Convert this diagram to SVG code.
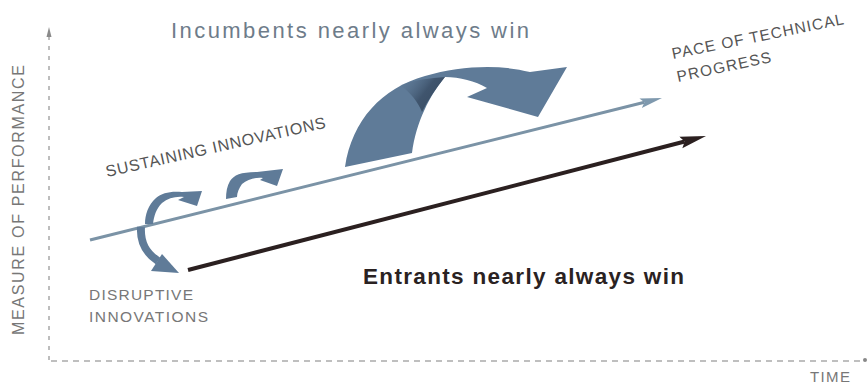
<svg xmlns="http://www.w3.org/2000/svg" width="868" height="384" viewBox="0 0 868 384">
<style>
.t{font-family:"Liberation Sans",Arial,sans-serif}
.axis{fill:#777;font-size:15px}
.lbl{fill:#555;font-size:15.5px}
.blue{fill:#5f7b98}
</style>
<defs>
<marker id="hLight" markerUnits="userSpaceOnUse" markerWidth="24" markerHeight="12" viewBox="0 -6 24 12" refX="4" refY="0" orient="auto">
<path d="M0,-5 L22,0 L0,5 L4,0 Z" fill="#7f99ae"/>
</marker>
<marker id="hDark" markerUnits="userSpaceOnUse" markerWidth="28" markerHeight="14" viewBox="0 -7 28 14" refX="4" refY="0" orient="auto">
<path d="M0,-6 L26,0 L0,6 L4,0 Z" fill="#2b2020"/>
</marker>
<linearGradient id="shadeG" x1="0" y1="0" x2="1" y2="0.6">
<stop offset="0" stop-color="#5f7b98" stop-opacity="0"/>
<stop offset="0.6" stop-color="#3a4e66" stop-opacity="0.85"/>
<stop offset="1" stop-color="#34475d" stop-opacity="0.9"/>
</linearGradient>
</defs>
<rect width="868" height="384" fill="#fff"/>

<g id="axes">
<line x1="49" y1="36" x2="49" y2="360" stroke="#9a9a9a" stroke-width="1.3" stroke-dasharray="4,6"/>
<path d="M49,27 L51.5,37 L46.5,37 Z" fill="#8a8a8a"/>
<line x1="51" y1="361" x2="864" y2="361" stroke="#aaa" stroke-width="1.3" stroke-dasharray="6,5"/>
<circle cx="865" cy="360" r="2" fill="#888"/>
<text class="t axis" x="24" y="200" transform="rotate(-90 24 200)" text-anchor="middle" textLength="270" lengthAdjust="spacing" style="font-size:16px">MEASURE OF PERFORMANCE</text>
<text class="t axis" x="810" y="382" textLength="40" lengthAdjust="spacing">TIME</text>
</g>

<g id="connectors">
<line id="pace-line" x1="90" y1="240" x2="644.5" y2="102.3" stroke="#7b93a6" stroke-width="3" marker-end="url(#hLight)"/>
<line id="entrant-line" x1="188" y1="270" x2="684.7" y2="141.5" stroke="#2b2020" stroke-width="4" marker-end="url(#hDark)"/>
</g>

<g id="big-arrow">
<path class="blue" d="M345,167 C352,120 382,88 425,76 C460,66 498,64 530,72 L567,67 L538,117 L467,97 L487,88 C475,81 460,77 445,77 C430,95 416,122 412,153 Z"/>
<path fill="url(#shadeG)" d="M400,85 C415,80 430,78 445,77 C436,88 428,100 422,112 C418,102 411,93 400,85 Z"/>
</g>

<g id="small-arrow-2">
<path class="blue" d="M226,199 C226,192 227,186 230,181 C234,175 241,172 257,172 L283,169 L277,186 L260,180 L263,178 C256,177 248,179 242,184 C239,188 237,193 237,197 Z"/>
</g>

<g id="small-arrow-1">
<path class="blue" d="M145,224 C145,215 148,205 156,198 C162,193 170,191 182,192 L202,191 L197,206 L178,200 L184,197 C176,196 168,198 162,203 C156,209 154,216 153,224 Z"/>
</g>

<g id="disruptive-arrow">
<path d="M141,227 C140,243 146,253 158,261" fill="none" stroke="#5f7b98" stroke-width="8"/>
<path class="blue" d="M151,271 L162,254 L179,273 Z"/>
</g>

<g id="labels">
<text class="t" x="171" y="38" fill="#6e7c8a" font-size="22" textLength="358" lengthAdjust="spacing">Incumbents nearly always win</text>
<text class="t" x="363" y="284" fill="#2a2222" font-size="22.5" font-weight="bold" textLength="321" lengthAdjust="spacing">Entrants nearly always win</text>
<text class="t lbl" x="107" y="177" transform="rotate(-12.7 107 177)" textLength="225" lengthAdjust="spacing" style="font-size:16px">SUSTAINING INNOVATIONS</text>
<text class="t lbl" x="673" y="59" transform="rotate(-11.5 673 59)" textLength="175" lengthAdjust="spacing">PACE OF TECHNICAL</text>
<text class="t lbl" x="678" y="82" transform="rotate(-12 678 82)" textLength="96" lengthAdjust="spacing">PROGRESS</text>
<text class="t lbl" x="89" y="300" textLength="104" lengthAdjust="spacing" style="fill:#777">DISRUPTIVE</text>
<text class="t lbl" x="89" y="322" textLength="119" lengthAdjust="spacing" style="fill:#777">INNOVATIONS</text>
</g>
</svg>
